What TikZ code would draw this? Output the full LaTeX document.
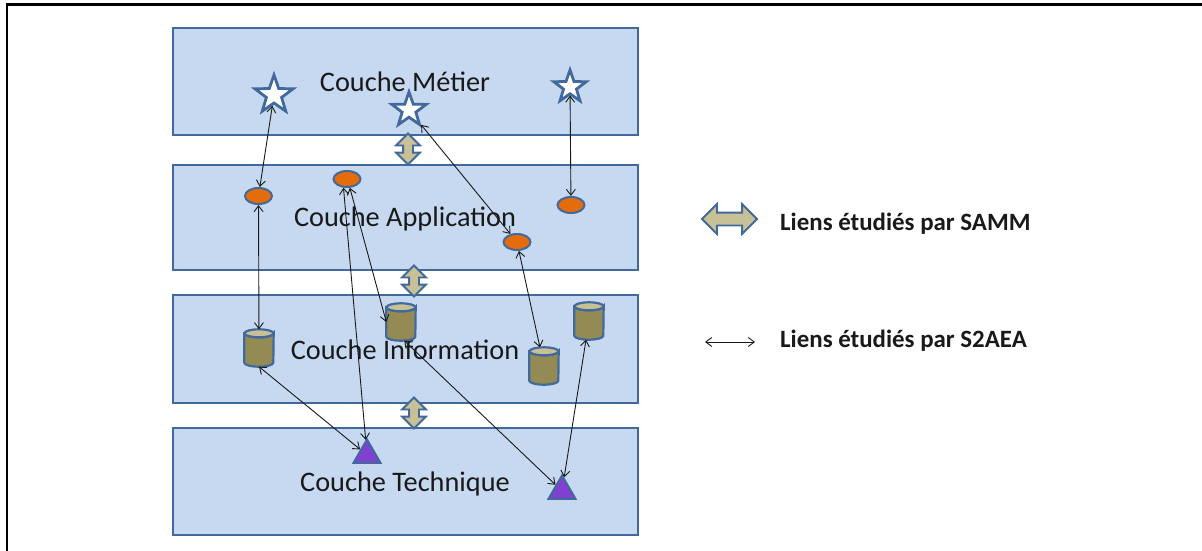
\documentclass[tikz,border=0pt]{standalone}
\usepackage{fontspec}
\setmainfont{Carlito}
\usetikzlibrary{shapes.geometric,shapes.arrows,arrows.meta}

\definecolor{layerfill}{RGB}{198,217,241}
\definecolor{edgeblue}{RGB}{65,105,155}
\definecolor{appfill}{RGB}{228,108,10}
\definecolor{dbfill}{RGB}{148,138,84}
\definecolor{dbtop}{RGB}{200,192,150}
\definecolor{techfill}{RGB}{128,64,208}
\definecolor{sammfill}{RGB}{200,192,150}
\definecolor{inkgray}{RGB}{25,25,25}

\begin{document}
\begin{tikzpicture}[x=1pt,y=-1pt,
  layer/.style={draw=edgeblue, line width=2.5pt, fill=layerfill,
    minimum width=465pt, inner sep=0pt},
  layertext/.style={anchor=base, inner sep=0pt, text=inkgray,
    font=\fontsize{28.3}{33}\selectfont},
  biz/.style={star, star points=5, star point ratio=2.5, draw=edgeblue,
    line width=2.8pt, fill=white, inner sep=0pt},
  app/.style={ellipse, draw=edgeblue, line width=2pt, fill=appfill,
    minimum width=27pt, minimum height=16pt, inner sep=0pt},
  dbnode/.style={rectangle, draw=none, minimum width=29pt,
    minimum height=37pt, inner sep=0pt},
  dbbody/.style={draw=edgeblue, line width=2.2pt, fill=dbfill},
  dbcap/.style={draw=edgeblue, line width=2.2pt, fill=dbtop},
  tech/.style={regular polygon, regular polygon sides=3, draw=edgeblue,
    line width=2pt, fill=techfill, minimum size=31pt, inner sep=0pt},
  samm/.style={double arrow, draw=edgeblue, line width=1.8pt, fill=sammfill,
    inner sep=4pt, double arrow head extend=7pt, minimum height=31pt},
  link/.style={{Straight Barb[length=6pt,width=9pt]}-{Straight Barb[length=6pt,width=9pt]},
    line width=0.9pt, draw=inkgray},
  legendtext/.style={anchor=base west, inner sep=0pt, text=inkgray,
    font=\bfseries\fontsize{24.9}{29}\selectfont}]

\useasboundingbox (0,0) rectangle (1202,551);

% outer frame (top and left edges)
\draw[line width=2.5pt] (7,551) -- (7,4.3) -- (1202,4.3);

% the four layers
\node[layer, minimum height=107pt] (metier) at (405.5,81.5) {};
\node[layer, minimum height=105pt] (appli)  at (405.5,217.5) {};
\node[layer, minimum height=108pt] (info)   at (405.5,349) {};
\node[layer, minimum height=107pt] (techno) at (405.5,481.5) {};

\node[layertext] (lmetier) at (405,92)  {Couche Métier};
\node[layertext] (lappli)  at (405,226) {Couche Application};
\node[layertext] (linfo)   at (405,359) {Couche Information};
\node[layertext] (ltechno) at (405,491) {Couche Technique};

% links between adjacent layers
\node[samm, shape border rotate=90] (d1) at (408,149) {};
\node[samm, shape border rotate=90] (d2) at (414,281) {};
\node[samm, shape border rotate=90] (d3) at (414,413) {};

% business elements
\node[biz, minimum size=40pt] (s1) at (274,95) {};
\node[biz, minimum size=36pt] (s2) at (409,110) {};
\node[biz, minimum size=34pt] (s3) at (570,87) {};

% application elements
\node[app] (e1) at (258.5,196) {};
\node[app] (e2) at (347,179) {};
\node[app] (e3) at (571,205) {};
\node[app] (e4) at (517,242) {};

% information elements (data stores drawn as cylinders)
\node[dbnode] (c1) at (259,348) {};
\node[dbnode] (c2) at (401,322) {};
\node[dbnode] (c3) at (544,366) {};
\node[dbnode] (c4) at (589,321) {};
\foreach \c in {c1,c2,c3,c4}{
  \path[dbbody] ([yshift=-4pt]\c.north west) -- ([yshift=4pt]\c.south west)
    arc[start angle=180, end angle=360, x radius=14.5pt, y radius=4pt]
    -- ([yshift=-4pt]\c.north east)
    arc[start angle=0, end angle=-180, x radius=14.5pt, y radius=4pt] -- cycle;
  \path[dbcap] ([yshift=-4pt]\c.north) ellipse[x radius=14.5pt, y radius=4pt];
}

% technical elements
\node[tech] (t1) at (367,455) {};
\node[tech] (t2) at (562,491) {};

% cross-layer links
\draw[link] (s1) -- (e1);
\draw[link] (s2) -- (e4);
\draw[link] (s3) -- (e3);
\draw[link] (e1) -- (c1);
\draw[link] (e2.-112) -- (t1);
\draw[link] (e2.-72) -- (c2.west);
\draw[link] (e4) -- (c3);
\draw[link] (c1.south) -- (t1);
\draw[link] (c2.-80) -- (t2);
\draw[link] (c4) -- (t2);

% legend
\node[samm, minimum height=55pt, minimum width=28pt, inner sep=5.5pt,
  double arrow head extend=8.5pt] (lsamm) at (729.5,219) {};
\node[legendtext] (tsamm) at (780,230) {Liens étudiés par SAMM};
\coordinate (la1) at (705,342);
\coordinate (la2) at (755,342);
\draw[link] (la1) -- (la2);
\node[legendtext] (ts2aea) at (780,347) {Liens étudiés par S2AEA};
\end{tikzpicture}
\end{document}
